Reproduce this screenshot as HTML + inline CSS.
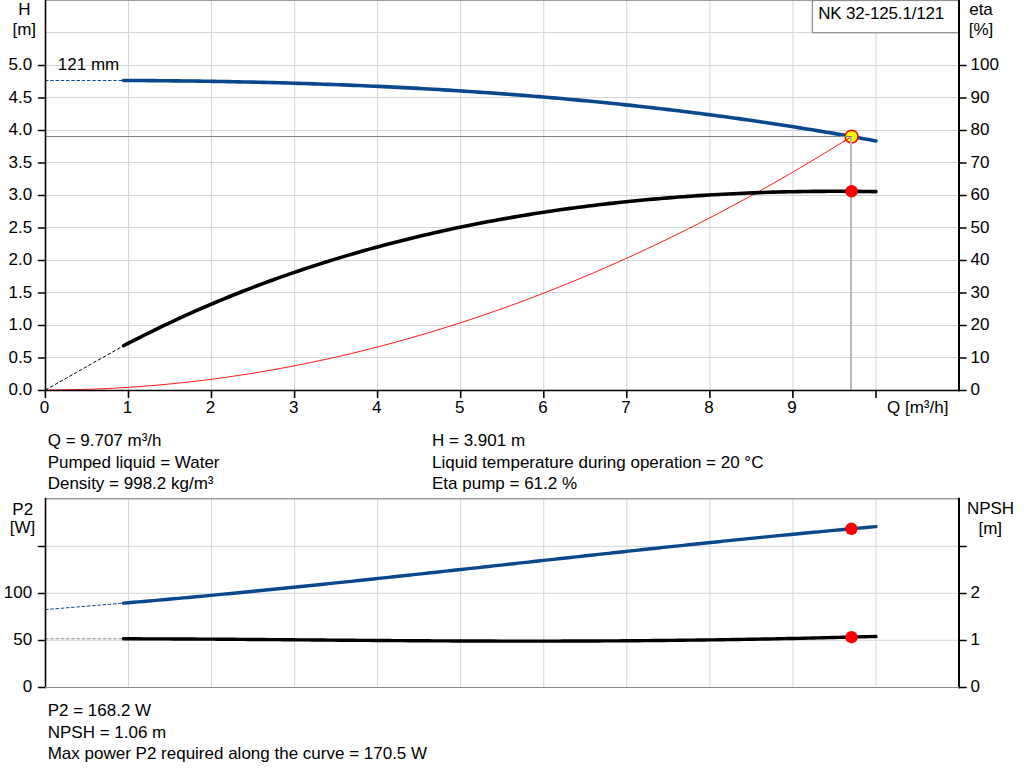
<!DOCTYPE html><html><head><meta charset="utf-8"><style>html,body{margin:0;padding:0;background:#fff;width:1024px;height:781px;overflow:hidden}svg{display:block}text{font-family:"Liberation Sans",sans-serif;font-size:17px;fill:#000}</style></head><body>
<svg width="1024" height="781" viewBox="0 0 1024 781">
<g stroke="#d3d5d8" stroke-width="1">
<line x1="128.46" y1="0" x2="128.46" y2="390"/>
<line x1="211.52" y1="0" x2="211.52" y2="390"/>
<line x1="294.58" y1="0" x2="294.58" y2="390"/>
<line x1="377.64" y1="0" x2="377.64" y2="390"/>
<line x1="460.70" y1="0" x2="460.70" y2="390"/>
<line x1="543.76" y1="0" x2="543.76" y2="390"/>
<line x1="626.82" y1="0" x2="626.82" y2="390"/>
<line x1="709.88" y1="0" x2="709.88" y2="390"/>
<line x1="792.94" y1="0" x2="792.94" y2="390"/>
<line x1="876.00" y1="0" x2="876.00" y2="390"/>
<line x1="45" y1="357.5" x2="959" y2="357.5"/>
<line x1="45" y1="325.5" x2="959" y2="325.5"/>
<line x1="45" y1="292.5" x2="959" y2="292.5"/>
<line x1="45" y1="260.5" x2="959" y2="260.5"/>
<line x1="45" y1="227.5" x2="959" y2="227.5"/>
<line x1="45" y1="195.5" x2="959" y2="195.5"/>
<line x1="45" y1="162.5" x2="959" y2="162.5"/>
<line x1="45" y1="130.5" x2="959" y2="130.5"/>
<line x1="45" y1="97.5" x2="959" y2="97.5"/>
<line x1="45" y1="65.5" x2="959" y2="65.5"/>
<line x1="45" y1="32.5" x2="959" y2="32.5"/>
<line x1="128.46" y1="499" x2="128.46" y2="687"/>
<line x1="211.52" y1="499" x2="211.52" y2="687"/>
<line x1="294.58" y1="499" x2="294.58" y2="687"/>
<line x1="377.64" y1="499" x2="377.64" y2="687"/>
<line x1="460.70" y1="499" x2="460.70" y2="687"/>
<line x1="543.76" y1="499" x2="543.76" y2="687"/>
<line x1="626.82" y1="499" x2="626.82" y2="687"/>
<line x1="709.88" y1="499" x2="709.88" y2="687"/>
<line x1="792.94" y1="499" x2="792.94" y2="687"/>
<line x1="876.00" y1="499" x2="876.00" y2="687"/>
<line x1="45" y1="546.3" x2="959" y2="546.3"/>
<line x1="45" y1="593.3" x2="959" y2="593.3"/>
<line x1="45" y1="640.3" x2="959" y2="640.3"/>
</g>
<line x1="45" y1="0.5" x2="959" y2="0.5" stroke="#9c9ea0" stroke-width="1"/>
<line x1="45" y1="498.8" x2="959" y2="498.8" stroke="#9a9c9e" stroke-width="1.5"/>
<rect x="812.4" y="0.5" width="146.6" height="32.2" fill="#fff" stroke="#8c8e90" stroke-width="1.25"/>
<text x="818.2" y="19" letter-spacing="-0.18">NK 32-125.1/121</text>
<line x1="45" y1="136.5" x2="851.6" y2="136.5" stroke="#808080" stroke-width="1.15"/>
<line x1="851.0" y1="136.6" x2="851.0" y2="390" stroke="#b8b8b8" stroke-width="2"/>
<path d="M45.40 390.00 L55.61 389.96 L65.81 389.84 L76.02 389.63 L86.22 389.35 L96.43 388.98 L106.64 388.54 L116.84 388.01 L127.05 387.40 L137.25 386.71 L147.46 385.94 L157.66 385.08 L167.87 384.15 L178.08 383.13 L188.28 382.04 L198.49 380.86 L208.69 379.60 L218.90 378.26 L229.11 376.84 L239.31 375.33 L249.52 373.75 L259.72 372.08 L269.93 370.34 L280.13 368.51 L290.34 366.60 L300.55 364.61 L310.75 362.53 L320.96 360.38 L331.16 358.15 L341.37 355.83 L351.58 353.43 L361.78 350.96 L371.99 348.40 L382.19 345.76 L392.40 343.03 L402.61 340.23 L412.81 337.34 L423.02 334.38 L433.22 331.33 L443.43 328.20 L453.63 324.99 L463.84 321.70 L474.05 318.33 L484.25 314.88 L494.46 311.34 L504.66 307.73 L514.87 304.03 L525.08 300.25 L535.28 296.39 L545.49 292.45 L555.69 288.43 L565.90 284.32 L576.11 280.14 L586.31 275.87 L596.52 271.53 L606.72 267.10 L616.93 262.59 L627.13 258.00 L637.34 253.32 L647.55 248.57 L657.75 243.74 L667.96 238.82 L678.16 233.82 L688.37 228.74 L698.58 223.58 L708.78 218.34 L718.99 213.02 L729.19 207.62 L739.40 202.13 L749.60 196.57 L759.81 190.92 L770.02 185.19 L780.22 179.38 L790.43 173.49 L800.63 167.52 L810.84 161.46 L821.05 155.33 L831.25 149.11 L841.46 142.81 L851.66 136.43" fill="none" stroke="#ff0000" stroke-width="0.9"/>
<line x1="45" y1="80.47" x2="123.5" y2="80.47" stroke="#0a478c" stroke-width="1" stroke-dasharray="3.5,1.75"/>
<line x1="45.4" y1="390" x2="123.5" y2="345.77" stroke="#000" stroke-width="1" stroke-dasharray="3.5,2"/>
<line x1="45" y1="609.6" x2="123.5" y2="603.15" stroke="#0a478c" stroke-width="1" stroke-dasharray="3.5,1.75"/>
<line x1="45" y1="638.79" x2="123.5" y2="638.79" stroke="#888" stroke-width="1" stroke-dasharray="3.5,1.75"/>
<path d="M123.5 80.47 L128.5 80.49 L133.5 80.52 L138.5 80.54 L143.5 80.57 L148.5 80.61 L153.5 80.64 L158.5 80.69 L163.5 80.73 L168.5 80.78 L173.5 80.83 L178.5 80.88 L183.5 80.94 L188.5 81.00 L193.5 81.07 L198.5 81.14 L203.5 81.21 L208.5 81.29 L213.5 81.37 L218.5 81.45 L223.5 81.54 L228.5 81.63 L233.5 81.73 L238.5 81.83 L243.5 81.93 L248.5 82.04 L253.5 82.15 L258.5 82.27 L263.5 82.39 L268.5 82.52 L273.5 82.65 L278.5 82.78 L283.5 82.92 L288.5 83.06 L293.5 83.21 L298.5 83.36 L303.5 83.51 L308.5 83.67 L313.5 83.84 L318.5 84.01 L323.5 84.18 L328.5 84.36 L333.5 84.54 L338.5 84.73 L343.5 84.92 L348.5 85.12 L353.5 85.33 L358.5 85.53 L363.5 85.75 L368.5 85.96 L373.5 86.19 L378.5 86.41 L383.5 86.65 L388.5 86.89 L393.5 87.13 L398.5 87.38 L403.5 87.63 L408.5 87.89 L413.5 88.15 L418.5 88.42 L423.5 88.70 L428.5 88.98 L433.5 89.27 L438.5 89.56 L443.5 89.85 L448.5 90.16 L453.5 90.47 L458.5 90.78 L463.5 91.10 L468.5 91.43 L473.5 91.76 L478.5 92.10 L483.5 92.44 L488.5 92.79 L493.5 93.14 L498.5 93.50 L503.5 93.87 L508.5 94.24 L513.5 94.62 L518.5 95.01 L523.5 95.40 L528.5 95.80 L533.5 96.20 L538.5 96.61 L543.5 97.03 L548.5 97.45 L553.5 97.88 L558.5 98.32 L563.5 98.76 L568.5 99.21 L573.5 99.67 L578.5 100.13 L583.5 100.60 L588.5 101.08 L593.5 101.56 L598.5 102.05 L603.5 102.54 L608.5 103.05 L613.5 103.56 L618.5 104.07 L623.5 104.60 L628.5 105.13 L633.5 105.66 L638.5 106.21 L643.5 106.76 L648.5 107.32 L653.5 107.89 L658.5 108.46 L663.5 109.04 L668.5 109.63 L673.5 110.22 L678.5 110.83 L683.5 111.44 L688.5 112.05 L693.5 112.68 L698.5 113.31 L703.5 113.95 L708.5 114.60 L713.5 115.26 L718.5 115.92 L723.5 116.59 L728.5 117.27 L733.5 117.96 L738.5 118.65 L743.5 119.35 L748.5 120.06 L753.5 120.78 L758.5 121.51 L763.5 122.24 L768.5 122.98 L773.5 123.73 L778.5 124.49 L783.5 125.26 L788.5 126.03 L793.5 126.82 L798.5 127.61 L803.5 128.41 L808.5 129.22 L813.5 130.03 L818.5 130.86 L823.5 131.69 L828.5 132.53 L833.5 133.38 L838.5 134.24 L843.5 135.11 L848.5 135.99 L853.5 136.87 L858.5 137.77 L863.5 138.67 L868.5 139.58 L873.5 140.50 L876.0 140.97" fill="none" stroke="#0a478c" stroke-width="3.6" stroke-linecap="round" stroke-linejoin="round"/>
<path d="M123.5 345.77 L128.5 343.16 L133.5 340.58 L138.5 338.03 L143.5 335.51 L148.5 333.02 L153.5 330.56 L158.5 328.13 L163.5 325.73 L168.5 323.35 L173.5 321.01 L178.5 318.69 L183.5 316.40 L188.5 314.14 L193.5 311.90 L198.5 309.69 L203.5 307.51 L208.5 305.36 L213.5 303.23 L218.5 301.13 L223.5 299.05 L228.5 297.01 L233.5 294.98 L238.5 292.99 L243.5 291.01 L248.5 289.07 L253.5 287.14 L258.5 285.25 L263.5 283.38 L268.5 281.53 L273.5 279.70 L278.5 277.90 L283.5 276.13 L288.5 274.37 L293.5 272.64 L298.5 270.94 L303.5 269.26 L308.5 267.60 L313.5 265.96 L318.5 264.34 L323.5 262.75 L328.5 261.18 L333.5 259.63 L338.5 258.10 L343.5 256.60 L348.5 255.12 L353.5 253.65 L358.5 252.21 L363.5 250.79 L368.5 249.39 L373.5 248.01 L378.5 246.65 L383.5 245.31 L388.5 244.00 L393.5 242.70 L398.5 241.42 L403.5 240.16 L408.5 238.92 L413.5 237.70 L418.5 236.50 L423.5 235.31 L428.5 234.15 L433.5 233.01 L438.5 231.88 L443.5 230.77 L448.5 229.68 L453.5 228.61 L458.5 227.56 L463.5 226.52 L468.5 225.50 L473.5 224.50 L478.5 223.52 L483.5 222.55 L488.5 221.60 L493.5 220.67 L498.5 219.76 L503.5 218.86 L508.5 217.98 L513.5 217.11 L518.5 216.26 L523.5 215.43 L528.5 214.62 L533.5 213.82 L538.5 213.03 L543.5 212.26 L548.5 211.51 L553.5 210.77 L558.5 210.05 L563.5 209.34 L568.5 208.65 L573.5 207.97 L578.5 207.31 L583.5 206.66 L588.5 206.03 L593.5 205.42 L598.5 204.81 L603.5 204.22 L608.5 203.65 L613.5 203.09 L618.5 202.54 L623.5 202.01 L628.5 201.49 L633.5 200.99 L638.5 200.50 L643.5 200.02 L648.5 199.56 L653.5 199.11 L658.5 198.67 L663.5 198.25 L668.5 197.84 L673.5 197.45 L678.5 197.06 L683.5 196.69 L688.5 196.33 L693.5 195.99 L698.5 195.66 L703.5 195.34 L708.5 195.03 L713.5 194.74 L718.5 194.46 L723.5 194.19 L728.5 193.93 L733.5 193.69 L738.5 193.46 L743.5 193.24 L748.5 193.03 L753.5 192.83 L758.5 192.65 L763.5 192.48 L768.5 192.32 L773.5 192.17 L778.5 192.03 L783.5 191.91 L788.5 191.79 L793.5 191.69 L798.5 191.60 L803.5 191.52 L808.5 191.46 L813.5 191.40 L818.5 191.36 L823.5 191.33 L828.5 191.30 L833.5 191.29 L838.5 191.29 L843.5 191.31 L848.5 191.33 L853.5 191.37 L858.5 191.41 L863.5 191.47 L868.5 191.54 L873.5 191.61 L876.0 191.66" fill="none" stroke="#000" stroke-width="3.6" stroke-linecap="round" stroke-linejoin="round"/>
<path d="M123.5 603.15 L128.5 602.73 L133.5 602.31 L138.5 601.89 L143.5 601.46 L148.5 601.02 L153.5 600.59 L158.5 600.15 L163.5 599.71 L168.5 599.26 L173.5 598.81 L178.5 598.36 L183.5 597.91 L188.5 597.45 L193.5 596.99 L198.5 596.53 L203.5 596.07 L208.5 595.60 L213.5 595.13 L218.5 594.65 L223.5 594.18 L228.5 593.70 L233.5 593.22 L238.5 592.74 L243.5 592.25 L248.5 591.77 L253.5 591.28 L258.5 590.78 L263.5 590.29 L268.5 589.79 L273.5 589.29 L278.5 588.79 L283.5 588.29 L288.5 587.79 L293.5 587.28 L298.5 586.77 L303.5 586.26 L308.5 585.75 L313.5 585.24 L318.5 584.72 L323.5 584.20 L328.5 583.68 L333.5 583.16 L338.5 582.64 L343.5 582.12 L348.5 581.59 L353.5 581.07 L358.5 580.54 L363.5 580.01 L368.5 579.48 L373.5 578.95 L378.5 578.42 L383.5 577.88 L388.5 577.35 L393.5 576.81 L398.5 576.27 L403.5 575.73 L408.5 575.20 L413.5 574.65 L418.5 574.11 L423.5 573.57 L428.5 573.03 L433.5 572.49 L438.5 571.94 L443.5 571.40 L448.5 570.85 L453.5 570.31 L458.5 569.76 L463.5 569.21 L468.5 568.67 L473.5 568.12 L478.5 567.57 L483.5 567.02 L488.5 566.47 L493.5 565.92 L498.5 565.37 L503.5 564.83 L508.5 564.28 L513.5 563.73 L518.5 563.18 L523.5 562.63 L528.5 562.08 L533.5 561.53 L538.5 560.98 L543.5 560.43 L548.5 559.88 L553.5 559.33 L558.5 558.79 L563.5 558.24 L568.5 557.69 L573.5 557.15 L578.5 556.60 L583.5 556.05 L588.5 555.51 L593.5 554.96 L598.5 554.42 L603.5 553.88 L608.5 553.34 L613.5 552.79 L618.5 552.25 L623.5 551.71 L628.5 551.18 L633.5 550.64 L638.5 550.10 L643.5 549.56 L648.5 549.03 L653.5 548.50 L658.5 547.96 L663.5 547.43 L668.5 546.90 L673.5 546.38 L678.5 545.85 L683.5 545.32 L688.5 544.80 L693.5 544.28 L698.5 543.75 L703.5 543.24 L708.5 542.72 L713.5 542.20 L718.5 541.69 L723.5 541.17 L728.5 540.66 L733.5 540.15 L738.5 539.65 L743.5 539.14 L748.5 538.64 L753.5 538.14 L758.5 537.64 L763.5 537.14 L768.5 536.64 L773.5 536.15 L778.5 535.66 L783.5 535.17 L788.5 534.69 L793.5 534.20 L798.5 533.72 L803.5 533.24 L808.5 532.76 L813.5 532.29 L818.5 531.82 L823.5 531.35 L828.5 530.88 L833.5 530.42 L838.5 529.96 L843.5 529.50 L848.5 529.05 L853.5 528.59 L858.5 528.15 L863.5 527.70 L868.5 527.26 L873.5 526.82 L876.0 526.60" fill="none" stroke="#0a478c" stroke-width="3.4" stroke-linecap="round" stroke-linejoin="round"/>
<path d="M123.5 638.79 L128.5 638.80 L133.5 638.80 L138.5 638.81 L143.5 638.83 L148.5 638.84 L153.5 638.86 L158.5 638.88 L163.5 638.90 L168.5 638.92 L173.5 638.94 L178.5 638.96 L183.5 638.99 L188.5 639.02 L193.5 639.05 L198.5 639.08 L203.5 639.11 L208.5 639.14 L213.5 639.17 L218.5 639.21 L223.5 639.24 L228.5 639.28 L233.5 639.31 L238.5 639.35 L243.5 639.39 L248.5 639.43 L253.5 639.47 L258.5 639.51 L263.5 639.55 L268.5 639.59 L273.5 639.63 L278.5 639.67 L283.5 639.71 L288.5 639.76 L293.5 639.80 L298.5 639.84 L303.5 639.88 L308.5 639.92 L313.5 639.97 L318.5 640.01 L323.5 640.05 L328.5 640.09 L333.5 640.13 L338.5 640.18 L343.5 640.22 L348.5 640.26 L353.5 640.30 L358.5 640.34 L363.5 640.37 L368.5 640.41 L373.5 640.45 L378.5 640.49 L383.5 640.52 L388.5 640.56 L393.5 640.60 L398.5 640.63 L403.5 640.66 L408.5 640.69 L413.5 640.73 L418.5 640.76 L423.5 640.79 L428.5 640.81 L433.5 640.84 L438.5 640.87 L443.5 640.89 L448.5 640.92 L453.5 640.94 L458.5 640.96 L463.5 640.98 L468.5 641.00 L473.5 641.02 L478.5 641.03 L483.5 641.05 L488.5 641.06 L493.5 641.07 L498.5 641.08 L503.5 641.09 L508.5 641.10 L513.5 641.11 L518.5 641.11 L523.5 641.11 L528.5 641.11 L533.5 641.11 L538.5 641.11 L543.5 641.11 L548.5 641.10 L553.5 641.09 L558.5 641.08 L563.5 641.07 L568.5 641.06 L573.5 641.04 L578.5 641.03 L583.5 641.01 L588.5 640.99 L593.5 640.97 L598.5 640.94 L603.5 640.92 L608.5 640.89 L613.5 640.86 L618.5 640.83 L623.5 640.79 L628.5 640.76 L633.5 640.72 L638.5 640.68 L643.5 640.64 L648.5 640.60 L653.5 640.55 L658.5 640.50 L663.5 640.45 L668.5 640.40 L673.5 640.35 L678.5 640.29 L683.5 640.23 L688.5 640.17 L693.5 640.11 L698.5 640.05 L703.5 639.98 L708.5 639.91 L713.5 639.84 L718.5 639.77 L723.5 639.69 L728.5 639.62 L733.5 639.54 L738.5 639.46 L743.5 639.38 L748.5 639.29 L753.5 639.20 L758.5 639.12 L763.5 639.02 L768.5 638.93 L773.5 638.84 L778.5 638.74 L783.5 638.64 L788.5 638.54 L793.5 638.44 L798.5 638.33 L803.5 638.22 L808.5 638.11 L813.5 638.00 L818.5 637.89 L823.5 637.78 L828.5 637.66 L833.5 637.54 L838.5 637.42 L843.5 637.30 L848.5 637.17 L853.5 637.05 L858.5 636.92 L863.5 636.79 L868.5 636.66 L873.5 636.52 L876.0 636.46" fill="none" stroke="#000" stroke-width="3.4" stroke-linecap="round" stroke-linejoin="round"/>
<circle cx="851.6" cy="136.6" r="6.4" fill="#ffff00" stroke="#ff0000" stroke-width="1.5"/>
<line x1="45" y1="136.6" x2="851.6" y2="136.6" stroke="#6a6a6a" stroke-width="1.2" opacity="0"/>
<path d="M843 142 L851.6 136.6" stroke="#ff0000" stroke-width="0.9"/>
<line x1="851.0" y1="136.6" x2="851.0" y2="145" stroke="#b8b8b8" stroke-width="2"/>
<line x1="840" y1="136.5" x2="851.6" y2="136.5" stroke="#808080" stroke-width="1.15"/>
<circle cx="851.6" cy="191.25" r="6.2" fill="#ff0000"/>
<circle cx="851.4" cy="528.8" r="6.2" fill="#ff0000"/>
<circle cx="851.5" cy="637.2" r="6.2" fill="#ff0000"/>
<g stroke="#000" stroke-width="1.6" stroke-linecap="round">
<line x1="45.5" y1="0" x2="45.5" y2="390.5"/>
<line x1="45.5" y1="390.5" x2="959" y2="390.5"/>
<line x1="959" y1="0" x2="959" y2="390.5" stroke-width="2"/>
<line x1="38.5" y1="390.5" x2="45.5" y2="390.5"/>
<line x1="38.5" y1="358.0" x2="45.5" y2="358.0"/>
<line x1="38.5" y1="325.5" x2="45.5" y2="325.5"/>
<line x1="38.5" y1="293.0" x2="45.5" y2="293.0"/>
<line x1="38.5" y1="260.5" x2="45.5" y2="260.5"/>
<line x1="38.5" y1="228.0" x2="45.5" y2="228.0"/>
<line x1="38.5" y1="195.5" x2="45.5" y2="195.5"/>
<line x1="38.5" y1="163.0" x2="45.5" y2="163.0"/>
<line x1="38.5" y1="130.5" x2="45.5" y2="130.5"/>
<line x1="38.5" y1="98.0" x2="45.5" y2="98.0"/>
<line x1="38.5" y1="65.5" x2="45.5" y2="65.5"/>
<line x1="959" y1="390.5" x2="966" y2="390.5"/>
<line x1="959" y1="358.0" x2="966" y2="358.0"/>
<line x1="959" y1="325.5" x2="966" y2="325.5"/>
<line x1="959" y1="293.0" x2="966" y2="293.0"/>
<line x1="959" y1="260.5" x2="966" y2="260.5"/>
<line x1="959" y1="228.0" x2="966" y2="228.0"/>
<line x1="959" y1="195.5" x2="966" y2="195.5"/>
<line x1="959" y1="163.0" x2="966" y2="163.0"/>
<line x1="959" y1="130.5" x2="966" y2="130.5"/>
<line x1="959" y1="98.0" x2="966" y2="98.0"/>
<line x1="959" y1="65.5" x2="966" y2="65.5"/>
<line x1="45.4" y1="390.5" x2="45.4" y2="397.5"/>
<line x1="128.5" y1="390.5" x2="128.5" y2="397.5"/>
<line x1="211.5" y1="390.5" x2="211.5" y2="397.5"/>
<line x1="294.6" y1="390.5" x2="294.6" y2="397.5"/>
<line x1="377.6" y1="390.5" x2="377.6" y2="397.5"/>
<line x1="460.7" y1="390.5" x2="460.7" y2="397.5"/>
<line x1="543.8" y1="390.5" x2="543.8" y2="397.5"/>
<line x1="626.8" y1="390.5" x2="626.8" y2="397.5"/>
<line x1="709.9" y1="390.5" x2="709.9" y2="397.5"/>
<line x1="792.9" y1="390.5" x2="792.9" y2="397.5"/>
<line x1="876.0" y1="390.5" x2="876.0" y2="397.5"/>
<line x1="45.5" y1="498.5" x2="45.5" y2="687.5"/>
<line x1="959" y1="498.5" x2="959" y2="687.5" stroke-width="2"/>
<line x1="38.5" y1="546.5" x2="45.5" y2="546.5"/>
<line x1="959" y1="546.5" x2="966" y2="546.5"/>
<line x1="38.5" y1="593.5" x2="45.5" y2="593.5"/>
<line x1="959" y1="593.5" x2="966" y2="593.5"/>
<line x1="38.5" y1="640.5" x2="45.5" y2="640.5"/>
<line x1="959" y1="640.5" x2="966" y2="640.5"/>
<line x1="38.5" y1="687.5" x2="45.5" y2="687.5"/>
<line x1="959" y1="687.5" x2="966" y2="687.5"/>
</g>
<line x1="45" y1="687.5" x2="959" y2="687.5" stroke="#888" stroke-width="1"/>
<text x="24.5" y="15.0" text-anchor="middle">H</text>
<text x="24.3" y="35.0" text-anchor="middle">[m]</text>
<text x="981.0" y="15.0" text-anchor="middle">eta</text>
<text x="981.0" y="35.0" text-anchor="middle">[%]</text>
<text x="32.1" y="395.1" text-anchor="end">0.0</text>
<text x="32.1" y="362.6" text-anchor="end">0.5</text>
<text x="32.1" y="330.1" text-anchor="end">1.0</text>
<text x="32.1" y="297.6" text-anchor="end">1.5</text>
<text x="32.1" y="265.1" text-anchor="end">2.0</text>
<text x="32.1" y="232.6" text-anchor="end">2.5</text>
<text x="32.1" y="200.1" text-anchor="end">3.0</text>
<text x="32.1" y="167.6" text-anchor="end">3.5</text>
<text x="32.1" y="135.1" text-anchor="end">4.0</text>
<text x="32.1" y="102.6" text-anchor="end">4.5</text>
<text x="32.1" y="70.1" text-anchor="end">5.0</text>
<text x="970.5" y="395.1" text-anchor="start">0</text>
<text x="970.5" y="362.6" text-anchor="start">10</text>
<text x="970.5" y="330.1" text-anchor="start">20</text>
<text x="970.5" y="297.6" text-anchor="start">30</text>
<text x="970.5" y="265.1" text-anchor="start">40</text>
<text x="970.5" y="232.6" text-anchor="start">50</text>
<text x="970.5" y="200.1" text-anchor="start">60</text>
<text x="970.5" y="167.6" text-anchor="start">70</text>
<text x="970.5" y="135.1" text-anchor="start">80</text>
<text x="970.5" y="102.6" text-anchor="start">90</text>
<text x="970.5" y="70.1" text-anchor="start">100</text>
<text x="44.5" y="413.0" text-anchor="middle">0</text>
<text x="127.6" y="413.0" text-anchor="middle">1</text>
<text x="210.6" y="413.0" text-anchor="middle">2</text>
<text x="293.7" y="413.0" text-anchor="middle">3</text>
<text x="376.7" y="413.0" text-anchor="middle">4</text>
<text x="459.8" y="413.0" text-anchor="middle">5</text>
<text x="542.9" y="413.0" text-anchor="middle">6</text>
<text x="625.9" y="413.0" text-anchor="middle">7</text>
<text x="709.0" y="413.0" text-anchor="middle">8</text>
<text x="792.0" y="413.0" text-anchor="middle">9</text>
<text x="887.0" y="413.0" text-anchor="start">Q [m³/h]</text>
<text x="57.8" y="70.4" text-anchor="start">121 mm</text>
<text x="47.7" y="446.0" text-anchor="start">Q = 9.707 m³/h</text>
<text x="47.7" y="467.5" text-anchor="start">Pumped liquid = Water</text>
<text x="47.7" y="489.0" text-anchor="start">Density = 998.2 kg/m³</text>
<text x="432.0" y="446.0" text-anchor="start">H = 3.901 m</text>
<text x="432.0" y="467.5" text-anchor="start">Liquid temperature during operation = 20 °C</text>
<text x="432.0" y="489.0" text-anchor="start">Eta pump = 61.2 %</text>
<text x="22.7" y="515.0" text-anchor="middle">P2</text>
<text x="22.6" y="533.0" text-anchor="middle">[W]</text>
<text x="990.5" y="514.0" text-anchor="middle">NPSH</text>
<text x="990.3" y="533.5" text-anchor="middle">[m]</text>
<text x="32.1" y="598.1" text-anchor="end">100</text>
<text x="32.1" y="645.1" text-anchor="end">50</text>
<text x="32.1" y="692.1" text-anchor="end">0</text>
<text x="970.5" y="598.1" text-anchor="start">2</text>
<text x="970.5" y="645.1" text-anchor="start">1</text>
<text x="970.5" y="692.1" text-anchor="start">0</text>
<text x="47.7" y="716.0" text-anchor="start">P2 = 168.2 W</text>
<text x="47.7" y="737.6" text-anchor="start">NPSH = 1.06 m</text>
<text x="47.7" y="759.0" text-anchor="start">Max power P2 required along the curve = 170.5 W</text>
</svg></body></html>
